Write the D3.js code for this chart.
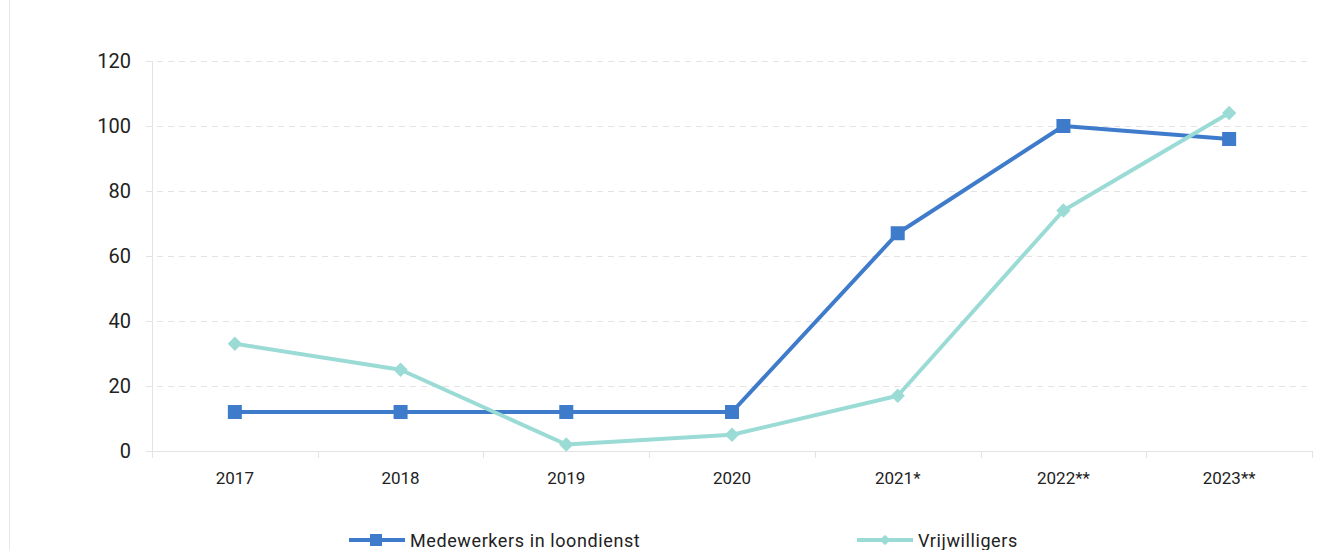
<!DOCTYPE html>
<html><head><meta charset="utf-8">
<script src="https://cdn.jsdelivr.net/npm/d3@7"></script>
<style>body{margin:0;background:#fff}svg{display:block}</style>
</head><body>
<svg id="c" width="1341" height="550"></svg>
<script>
const categories = ["2017","2018","2019","2020","2021*","2022**","2023**"];
const medewerkers = [12,12,12,12,67,100,96];
const vrijwilligers = [33,25,2,5,17,74,104];
const yTicks = [0,20,40,60,80,100,120];
const seriesNames = ["Medewerkers in loondienst","Vrijwilligers"];
const colors = ["#3E7BCB","#9BDBD6"];

const svg = d3.select("#c");
const L=152,R=1312,T=61,B=451;
svg.append("line").attr("x1",9.5).attr("x2",9.5).attr("y1",0).attr("y2",550).attr("stroke","#e8e8e8");

const x = d3.scaleBand().domain(categories).range([L,R]);
const y = d3.scaleLinear().domain([0,120]).range([B,T]);

svg.append("g").selectAll("line").data(yTicks.filter(d=>d>0)).join("line")
  .attr("x1",146).attr("x2",R).attr("y1",d=>y(d)+0.5).attr("y2",d=>y(d)+0.5)
  .attr("stroke","#e3e3e3").attr("stroke-dasharray","6,5");
svg.append("line").attr("x1",L+0.5).attr("x2",L+0.5).attr("y1",T).attr("y2",B+6).attr("stroke","#e3e3e3");
svg.append("line").attr("x1",146).attr("x2",R).attr("y1",B+0.5).attr("y2",B+0.5).attr("stroke","#e3e3e3");
const bounds = categories.map(c=>x(c)).concat([R]);
svg.append("g").selectAll("line").data(bounds).join("line")
  .attr("x1",d=>Math.round(d)+0.5).attr("x2",d=>Math.round(d)+0.5).attr("y1",B).attr("y2",B+7).attr("stroke","#e3e3e3");

svg.append("g").selectAll("text").data(yTicks).join("text")
  .attr("x",131).attr("y",d=>y(d)).attr("dy","0.35em").attr("text-anchor","end")
  .attr("font-family","Roboto, sans-serif").attr("font-size",20).attr("fill","#222")
  .text(d=>d);
svg.append("g").selectAll("text").data(categories).join("text")
  .attr("x",d=>x(d)+x.bandwidth()/2).attr("y",484).attr("text-anchor","middle")
  .attr("font-family","Roboto, sans-serif").attr("font-size",17).attr("fill","#222")
  .text(d=>d);

const line = d3.line().x((d,i)=>x(categories[i])+x.bandwidth()/2).y(d=>y(d));
const all = [medewerkers, vrijwilligers];
[0,1].forEach(k=>{
  svg.append("path").datum(all[k]).attr("d",line).attr("fill","none")
    .attr("stroke",colors[k]).attr("stroke-width",4).attr("stroke-linejoin","round");
});
svg.append("g").selectAll("rect").data(medewerkers).join("rect")
  .attr("x",(d,i)=>x(categories[i])+x.bandwidth()/2-7).attr("y",d=>y(d)-7)
  .attr("width",14).attr("height",14).attr("fill",colors[0]);
const diamond = d3.symbol().type(d3.symbolDiamond2).size(130);
svg.append("g").selectAll("path").data(vrijwilligers).join("path")
  .attr("d",diamond)
  .attr("transform",(d,i)=>`translate(${x(categories[i])+x.bandwidth()/2},${y(d)})`)
  .attr("fill",colors[1]);

const leg = [{x:349,name:seriesNames[0],c:colors[0],m:"sq"},{x:857,name:seriesNames[1],c:colors[1],m:"di"}];
const ly = 540;
leg.forEach(l=>{
  const g = svg.append("g");
  g.append("line").attr("x1",l.x).attr("x2",l.x+56).attr("y1",ly).attr("y2",ly).attr("stroke",l.c).attr("stroke-width",4);
  if(l.m==="sq") g.append("rect").attr("x",l.x+21).attr("y",ly-6).attr("width",12).attr("height",12).attr("fill",l.c);
  else g.append("path").attr("d",d3.symbol().type(d3.symbolDiamond2).size(70)).attr("transform",`translate(${l.x+28},${ly})`).attr("fill",l.c);
  g.append("text").attr("x",l.x+61).attr("y",ly).attr("dy","0.38em")
    .attr("font-family","Roboto, sans-serif").attr("font-size",18).attr("letter-spacing",0.6).attr("fill","#222").text(l.name);
});
</script>
</body></html>
